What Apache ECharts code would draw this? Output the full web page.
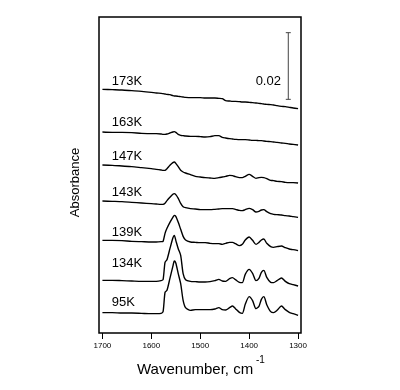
<!DOCTYPE html>
<html>
<head>
<meta charset="utf-8">
<script src="https://cdn.jsdelivr.net/npm/echarts@6/dist/echarts.min.js"></script>
<style>html,body{margin:0;padding:0;background:#fff;}#c{width:400px;height:390px;}</style>
</head>
<body>
<div id="c"></div>
<script>
// Wavenumber grid (cm^-1)
const wavenumbers = [1700,1680,1660,1640,1620,1600,1590,1580,1576,1572,1568,1562,1556,1553,1550,1545,1540,1535,1530,1520,1510,1500,1490,1480,1470,1462,1455,1448,1440,1434,1428,1420,1414,1408,1400,1393,1386,1380,1375,1370,1364,1356,1350,1343,1334,1326,1318,1310,1300];

// Stacked absorbance traces (units of 0.001 absorbance, offsets included)
const k95  = [6.1,6.1,6.0,6.0,5.9,5.8,5.8,5.9,6.4,12.2,12.8,16.4,20.0,21.6,21.0,17.8,14.8,9.8,7.6,6.8,7.0,7.0,7.0,7.0,7.2,7.6,7.0,6.9,7.6,8.1,7.3,6.2,5.9,8.6,10.9,9.7,7.3,8.0,10.1,10.9,8.5,6.4,6.1,6.8,8.1,7.0,6.2,5.8,5.3];
const k134 = [15.8,15.8,15.7,15.6,15.5,15.5,15.5,15.7,16.0,21.2,22.0,25.3,28.5,29.3,27.8,25.3,23.3,17.8,16.0,15.5,15.4,15.3,15.3,15.4,15.7,16.1,15.6,15.5,16.3,16.6,16.0,15.2,15.1,17.6,19.1,17.9,15.7,16.4,18.2,18.8,16.7,15.2,15.1,15.7,16.5,15.5,14.8,14.5,14.1];
const k139 = [27.8,27.8,27.7,27.5,27.4,27.3,27.3,27.4,27.5,29.9,31.4,33.2,34.7,35.3,35.0,33.2,31.1,29.0,27.9,27.3,27.2,27.1,27.1,26.9,26.8,26.8,26.6,26.9,27.2,27.2,26.8,26.2,26.6,27.9,28.8,27.8,26.6,27.2,27.9,28.2,26.9,25.9,25.7,25.9,26.1,25.6,25.2,25.0,24.7];
const k143 = [39.6,39.5,39.4,39.2,39.0,38.8,38.7,38.6,38.6,38.9,39.7,40.7,41.6,41.8,41.5,40.4,38.9,37.9,37.6,37.3,37.2,37.0,37.0,37.0,37.1,37.2,37.3,37.3,37.3,37.3,37.1,36.8,36.7,37.0,37.4,37.0,36.3,36.5,36.9,37.0,36.4,35.8,35.6,35.5,35.4,35.2,35.1,34.9,34.7];
const k147 = [50.4,50.3,50.1,49.9,49.6,49.3,49.1,48.9,48.8,48.8,49.3,50.3,51.1,51.3,50.9,49.9,48.8,48.3,48.0,47.5,47.0,46.8,46.6,46.5,46.4,46.6,46.8,47.0,47.3,47.2,46.9,46.6,46.6,47.0,47.6,47.0,46.4,46.6,46.7,46.6,46.3,45.8,45.7,45.5,45.4,45.2,45.1,45.1,45.0];
const k163 = [60.3,60.2,60.2,60.1,59.9,59.8,59.8,59.7,59.6,59.6,59.7,60.0,60.3,60.4,60.2,59.6,59.3,59.2,59.1,59.0,59.0,58.9,58.8,58.9,59.2,59.2,58.7,58.5,58.3,58.2,58.1,58.0,58.0,58.0,57.9,57.8,57.8,57.7,57.7,57.6,57.5,57.4,57.3,57.2,57.0,56.9,56.7,56.6,56.4];
const k173 = [73.1,73.0,72.9,72.7,72.5,72.2,72.0,71.9,71.8,71.7,71.6,71.5,71.2,71.1,71.1,71.0,70.9,70.8,70.7,70.6,70.6,70.6,70.5,70.5,70.5,70.4,70.3,69.7,69.6,69.5,69.5,69.4,69.3,69.3,69.2,69.1,69.0,68.9,68.8,68.7,68.6,68.5,68.4,68.2,68.0,67.9,67.7,67.5,67.3];

const traceNames = ['95K','134K','139K','143K','147K','163K','173K'];
const traces = [k95,k134,k139,k143,k147,k163,k173];

// Tick labels of the wavenumber axis
const xTicks = [1700,1600,1500,1400,1300];

// Scale bar: 0.02 absorbance = 20 units
const scaleBarLength = 20;

// Layout (not data)
const labelX = 1681;
const labelY = [9.3,20.8,30.3,42.1,53.1,63.3,75.5];
const scaleBarX = 1320, scaleBarBase = 70.1;

const chart = echarts.init(document.getElementById('c'), null, {renderer:'canvas'});
const font = 'Liberation Sans, Arial, Helvetica, sans-serif';

const series = traces.map((arr, i) => ({
  type: 'line',
  name: traceNames[i],
  data: wavenumbers.map((w, j) => [w, arr[j]]),
  showSymbol: false,
  smooth: 0.25,
  lineStyle: {color: '#000', width: 1.4},
  silent: true,
  z: 3
}));

series.push({
  type: 'scatter',
  data: traceNames.map((n, i) => ({value: [labelX, labelY[i]], name: n})),
  symbolSize: 0,
  silent: true,
  label: {show: true, position: 'right', distance: 0, formatter: p => p.name,
          color: '#000', fontSize: 13, fontFamily: font, opacity: 1}
});

series.push({
  type: 'line',
  data: [[scaleBarX, scaleBarBase], [scaleBarX, scaleBarBase + scaleBarLength]],
  symbol: 'rect',
  symbolSize: [5, 1],
  showSymbol: true,
  itemStyle: {color: '#444'},
  lineStyle: {color: '#444', width: 1},
  silent: true
});

series.push({
  type: 'scatter',
  data: [{value: [1335, scaleBarBase + scaleBarLength * 0.275], name: (scaleBarLength / 1000).toFixed(2)}],
  symbolSize: 0,
  silent: true,
  label: {show: true, position: 'left', distance: 0, formatter: p => p.name,
          color: '#000', fontSize: 13, fontFamily: font, opacity: 1}
});

chart.setOption({
  animation: false,
  backgroundColor: '#fff',
  grid: {left: 99, top: 17, width: 202, height: 316, show: true, borderColor: '#000', borderWidth: 1.5, backgroundColor: 'transparent'},
  xAxis: {
    type: 'value', inverse: true, min: 1294, max: 1707,
    axisLine: {show: false},
    splitLine: {show: false},
    axisTick: {show: true, inside: false, length: 6, customValues: xTicks, lineStyle: {color: '#000', width: 1}},
    axisLabel: {show: true, customValues: xTicks, margin: 9, fontSize: 8, color: '#000', fontFamily: font,
                formatter: v => String(v)}
  },
  yAxis: {
    type: 'value', min: 0, max: 94.8, show: false
  },
  graphic: [
    {type: 'text', left: 137, top: 362, style: {text: 'Wavenumber, cm', fontSize: 15, fontFamily: font, fill: '#000'}},
    {type: 'text', left: 256, top: 355, style: {text: '-1', fontSize: 10, fontFamily: font, fill: '#000'}},
    {type: 'text', x: 75, y: 182.5, rotation: Math.PI / 2,
     style: {text: 'Absorbance', fontSize: 13, fontFamily: font, fill: '#000', align: 'center', verticalAlign: 'middle'}}
  ],
  series: series
});
</script>
</body>
</html>
